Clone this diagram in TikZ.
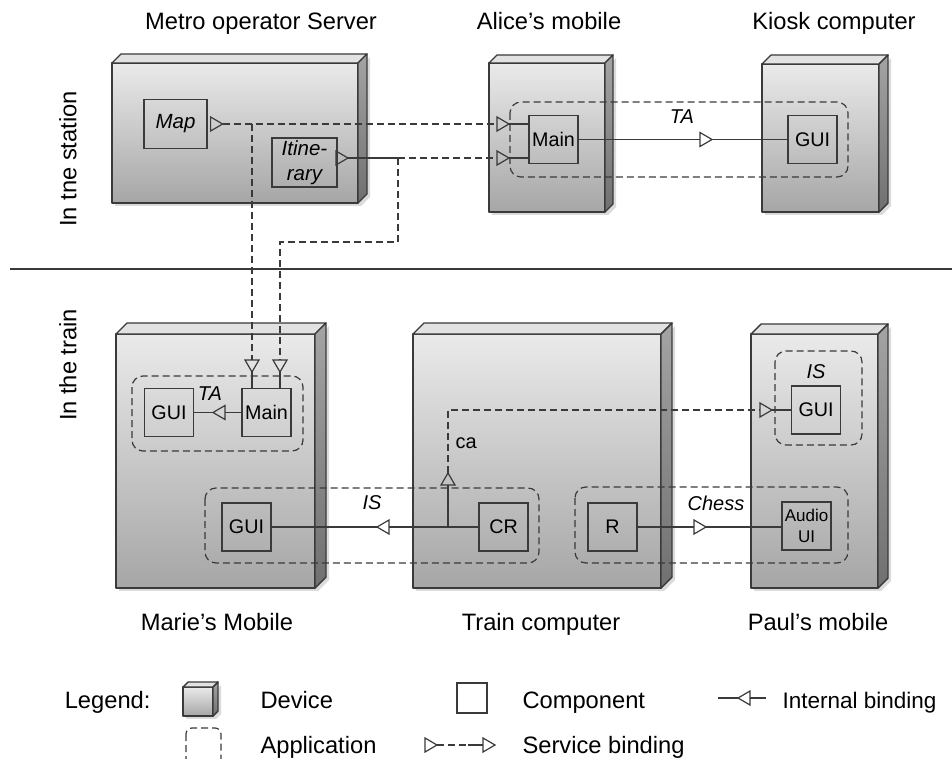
\documentclass[tikz,border=0pt]{standalone}
\usepackage{fontspec}
\setmainfont{Liberation Sans}
\usetikzlibrary{calc}

\definecolor{edge}{HTML}{3A3A3A}
\definecolor{devtop}{HTML}{EAEAEA}
\definecolor{devbot}{HTML}{A6A6A6}
\definecolor{devlid}{HTML}{E2E2E2}
\definecolor{sidetop}{HTML}{A4A4A4}
\definecolor{sidebot}{HTML}{707070}

\tikzset{
  devline/.style={draw=edge, line width=1.4pt, line join=round},
  comp/.style={draw=edge, line width=1.2pt, minimum width=49pt, minimum height=48pt,
    inner sep=1pt, font=\fontsize{19.7}{22}\selectfont},
  app/.style={draw=edge, line width=1.2pt, dash pattern=on 7pt off 4pt, rounded corners=11pt},
  svc/.style={draw=edge, line width=1.2pt, dash pattern=on 7pt off 4pt},
  wire/.style={draw=edge, line width=1.2pt},
  lbl/.style={font=\fontsize{23.7}{26}\selectfont},
  tag/.style={font=\fontsize{20}{22}\selectfont\itshape},
}

% device box: x1, y1, x2, y2 of the front face, depth
\newcommand\device[5]{%
  \fill[black!14] (#1+3,#2+3) rectangle (#3+3,#4+3);
  \fill[black!14] (#3+3,#4+3) -- (#3+#5+3,#4-#5+3) -- (#3+#5+3,#2-#5+3) -- (#3+3,#2+3) -- cycle;
  \draw[devline, top color=devtop, bottom color=devbot] (#1,#2) rectangle (#3,#4);
  \draw[devline, fill=devlid] (#1,#2) -- (#1+#5,#2-#5) -- (#3+#5,#2-#5) -- (#3,#2) -- cycle;
  \draw[devline, top color=sidetop, bottom color=sidebot] (#3,#2) -- (#3+#5,#2-#5) -- (#3+#5,#4-#5) -- (#3,#4) -- cycle;
}
% open port triangle: tip, direction
\newcommand\porttri[2]{\draw[wire, line join=miter, shift={#1}, rotate=#2] (0,0) -- (-12,7) -- (-12,-7) -- cycle;}

\begin{document}
\begin{tikzpicture}[x=1pt, y=-1pt]
\useasboundingbox (0,0) rectangle (952,759);

% places
\node[lbl, rotate=90] (station) at (68,159) {In tne station};
\node[lbl, rotate=90] (train) at (68,365) {In the train};
\draw[edge, line width=1.2pt] (10,269) -- (952,269);

% devices
\device{112}{63}{358}{203}{9}
\device{489}{63}{605}{212}{8}
\device{762}{64}{879}{212}{9}
\device{116}{334}{315}{588}{11}
\device{413}{334}{661}{588}{11}
\device{751}{334}{878}{588}{10}

\node[lbl, anchor=base] (server) at (261,30) {Metro operator Server};
\node[lbl, anchor=base] (alice) at (549,30) {Alice’s mobile};
\node[lbl, anchor=base] (kiosk) at (834,30) {Kiosk computer};
\node[lbl, anchor=base] (marie) at (217,630) {Marie’s Mobile};
\node[lbl, anchor=base] (traincomp) at (541,630) {Train computer};
\node[lbl, anchor=base] (paul) at (818,630) {Paul’s mobile};

% applications
\draw[app] (510,102) rectangle (848,177);
\draw[app] (132,376) rectangle (303,451);
\draw[app] (205,488) rectangle (539,563);
\draw[app] (575,487) rectangle (848,563);
\draw[app] (775,351) rectangle (862,445);

% components
\node[comp, minimum width=63pt, minimum height=49pt, font=\fontsize{20.5}{22}\selectfont\itshape] (map) at (175.5,124) {Map};
\node[comp, minimum width=65pt, minimum height=49pt, align=center, font=\fontsize{20.5}{25}\selectfont\itshape] (itin) at (304.5,162.5) {Itine-\\rary};
\node[comp] (amain) at (553.5,139.5) {Main};
\node[comp] (kgui) at (812.5,139.5) {GUI};
\node[comp] (mgui) at (169,412.5) {GUI};
\node[comp] (mmain) at (266.5,412.5) {Main};
\node[comp] (igui) at (246.5,527) {GUI};
\node[comp] (cr) at (503.5,527) {CR};
\node[comp] (r) at (612.5,527) {R};
\node[comp] (pgui) at (816,410) {GUI};
\node[comp, align=center, font=\fontsize{17}{21}\selectfont] (audio) at (806.5,526) {Audio\\UI};

% Map service
\coordinate (mapT) at ($(map.east)+(15,0)$);
\porttri{(mapT)}{0}
\coordinate (aT1) at (509,124);
\porttri{(aT1)}{0}
\draw[svc] (mapT) -- ($(aT1)+(-12,0)$);
\draw[wire] (aT1) -- (amain.west |- aT1);
\coordinate (mT1) at (252,372);
\porttri{(mT1)}{-90}
\draw[svc] (252,124) -- ($(mT1)+(0,-12)$);
\draw[wire] (mT1) -- (mT1 |- mmain.north);

% Itinerary service
\coordinate (itT) at (348,158);
\porttri{(itT)}{0}
\draw[wire] (itT) -- (398,158) coordinate (itJ);
\coordinate (aT2) at (509,158);
\porttri{(aT2)}{0}
\draw[svc] (itJ) -- ($(aT2)+(-12,0)$);
\draw[wire] (aT2) -- (amain.west |- aT2);
\coordinate (mT2) at (280,372);
\porttri{(mT2)}{-90}
\draw[svc] (itJ) -- (398,242) -- (280,242) -- ($(mT2)+(0,-12)$);
\draw[wire] (mT2) -- (mT2 |- mmain.north);

% TA bindings
\coordinate (taT) at (712,139.5);
\draw[wire] (amain.east) -- ($(taT)+(-12,0)$);
\porttri{(taT)}{0}
\draw[wire] (taT) -- (kgui.west);
\node[tag] (ta1) at (682,117) {TA};
\coordinate (mtaT) at (213,412.5);
\draw[wire] (mmain.west) -- ($(mtaT)+(12,0)$);
\porttri{(mtaT)}{180}
\draw[wire] (mtaT) -- (mgui.east);
\node[tag] (ta2) at (210,394) {TA};

% IS bindings
\coordinate (isT) at (377,527);
\draw[wire] (cr.west) -- ($(isT)+(12,0)$);
\porttri{(isT)}{180}
\draw[wire] (isT) -- (igui.east);
\node[tag] (is1) at (372,503) {IS};
\node[tag] (is2) at (816,372) {IS};
\coordinate (caJ) at (448,527);
\coordinate (caT) at (448,473);
\draw[wire] (caJ) -- ($(caT)+(0,12)$);
\porttri{(caT)}{90}
\coordinate (pT) at (772,410);
\draw[svc] (caT) -- (448,410) -- ($(pT)+(-12,0)$);
\porttri{(pT)}{0}
\draw[wire] (pT) -- (pgui.west);
\node[anchor=west, font=\fontsize{20}{22}\selectfont] (ca) at (452,443) {ca};

% Chess binding
\coordinate (chT) at (706,527);
\draw[wire] (r.east) -- ($(chT)+(-12,0)$);
\porttri{(chT)}{0}
\draw[wire] (chT) -- (audio.west |- chT);
\node[tag] (chess) at (716,503) {Chess};

% legend
\node[lbl, anchor=base east] (legend) at (154,708) {Legend:};
\device{183}{687}{213}{716}{5}
\node[lbl, anchor=base west] (ldev) at (257,708) {Device};
\node[comp, minimum width=30pt, minimum height=30pt] (lcomp) at (472,698) {};
\node[lbl, anchor=base west] (lcomptxt) at (519,708) {Component};
\coordinate (libT) at (738,698);
\draw[wire] (718,698) -- (libT);
\porttri{(libT)}{180}
\draw[wire] ($(libT)+(12,0)$) -- (766,698);
\node[lbl, anchor=base west, font=\fontsize{22.5}{26}\selectfont] (libtxt) at (779,708) {Internal binding};
\draw[app, rounded corners=6pt] (186,728) rectangle (221,766);
\node[lbl, anchor=base west] (lapp) at (257,753) {Application};
\porttri{(437,745)}{0}
\draw[svc] (437,745) -- (468,745);
\draw[wire] (468,745) -- (483,745);
\porttri{(495,745)}{0}
\node[lbl, anchor=base west] (lsvc) at (519,753) {Service binding};

\end{tikzpicture}
\end{document}
